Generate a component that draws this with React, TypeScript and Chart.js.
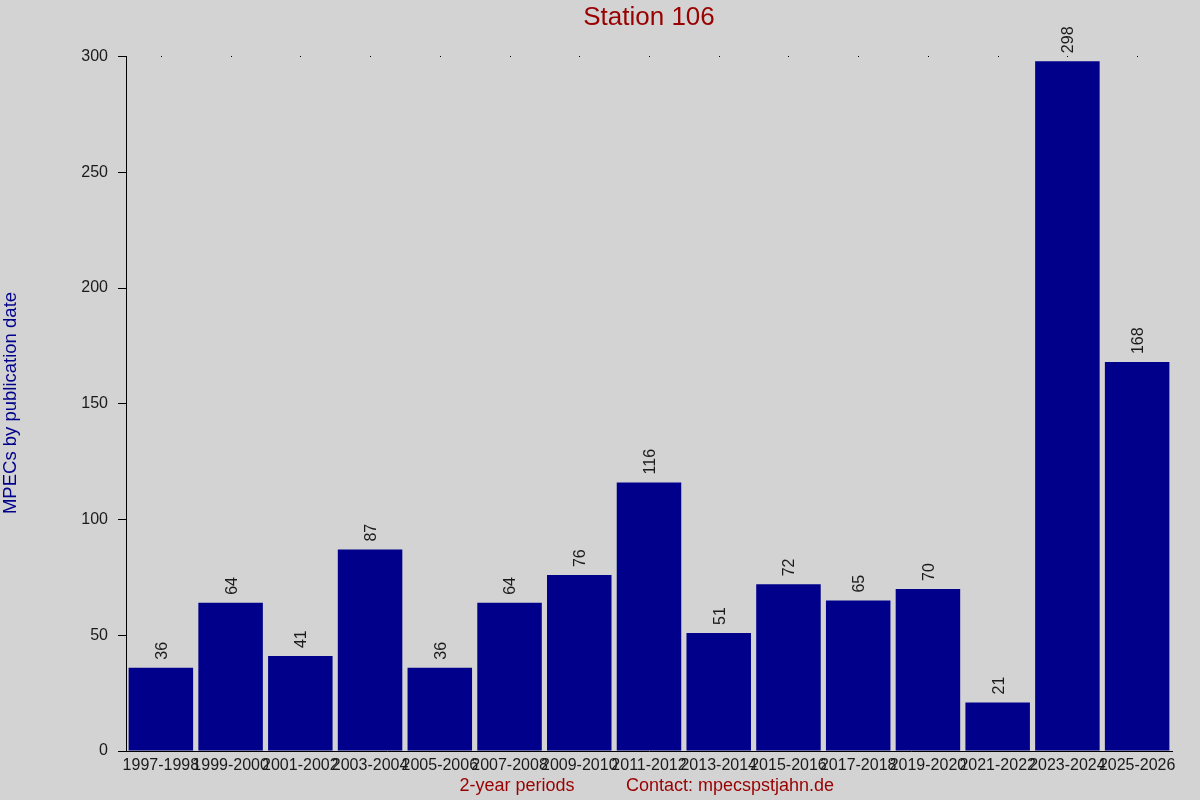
import Chart from "chart.js/auto";
import type { ChartOptions, Plugin } from "chart.js";
import { useRef, useEffect } from "react";

const periods = [
  "1997-1998", "1999-2000", "2001-2002", "2003-2004", "2005-2006",
  "2007-2008", "2009-2010", "2011-2012", "2013-2014", "2015-2016",
  "2017-2018", "2019-2020", "2021-2022", "2023-2024", "2025-2026",
];
const mpecCounts = [36, 64, 41, 87, 36, 64, 76, 116, 51, 72, 65, 70, 21, 298, 168];
const yTicks = [0, 50, 100, 150, 200, 250, 300];

const FONT = "'Liberation Sans', Arial, sans-serif";

const decorations: Plugin<"bar"> = {
  id: "decorations",
  afterDraw(chart) {
    const { ctx, chartArea } = chart;
    const xScale = chart.scales.x;
    const meta = chart.getDatasetMeta(0);
    ctx.save();

    // small dots along the top edge
    ctx.fillStyle = "#000";
    periods.forEach((_, i) => {
      const px = Math.round(xScale.getPixelForValue(i));
      ctx.fillRect(px, Math.floor(chartArea.top), 1, 1);
    });

    // value labels, rotated
    ctx.font = `16px ${FONT}`;
    ctx.fillStyle = "#1a1a1a";
    ctx.textAlign = "left";
    ctx.textBaseline = "middle";
    meta.data.forEach((bar, i) => {
      ctx.save();
      ctx.translate(bar.x + 1.5, bar.y - 8);
      ctx.rotate(-Math.PI / 2);
      ctx.fillText(String(mpecCounts[i]), 0, 0);
      ctx.restore();
    });

    // title
    ctx.fillStyle = "#990000";
    ctx.font = `26px ${FONT}`;
    ctx.textAlign = "center";
    ctx.fillText("Station 106", (chartArea.left + chartArea.right) / 2, 18);

    // bottom captions
    ctx.font = `18px ${FONT}`;
    ctx.fillText("2-year periods", 517, 786);
    ctx.textAlign = "left";
    ctx.fillText("Contact: mpecspstjahn.de", 626, 786);

    // y axis title
    ctx.fillStyle = "#00008b";
    ctx.textAlign = "center";
    ctx.font = `18.5px ${FONT}`;
    ctx.translate(11, 403);
    ctx.rotate(-Math.PI / 2);
    ctx.fillText("MPECs by publication date", 0, 0);

    ctx.restore();
  },
};

const App: React.FC = () => {
  const chartRef = useRef<HTMLCanvasElement>(null);
  const chartInstance = useRef<Chart<"bar">>();

  useEffect(() => {
    if (!chartRef.current) return;

    const options: ChartOptions<"bar"> = {
      responsive: false,
      animation: false,
      devicePixelRatio: 1,
      layout: { padding: { top: 56.5, right: 28, left: 0, bottom: 0 } },
      plugins: {
        legend: { display: false },
        tooltip: { enabled: false },
      },
      scales: {
        x: {
          grid: { display: false },
          border: { display: true, color: "#000", width: 1 },
          ticks: {
            color: "#1a1a1a",
            font: { family: FONT, size: 16 },
            autoSkip: false,
            minRotation: 0,
            maxRotation: 0,
            padding: -3,
          },
          afterFit: (scale) => {
            scale.height = 49;
          },
        },
        y: {
          min: 0,
          max: 300,
          grid: {
            display: true,
            drawOnChartArea: false,
            tickLength: 8,
            color: "#000",
          },
          border: { display: true, color: "#000", width: 1 },
          afterBuildTicks: (scale) => {
            scale.ticks = yTicks.map((v) => ({ value: v }));
          },
          ticks: {
            color: "#1a1a1a",
            font: { family: FONT, size: 16 },
            padding: 10,
          },
          afterFit: (scale) => {
            scale.width = 126;
          },
        },
      },
    };

    const ctx = chartRef.current.getContext("2d");
    if (ctx) {
      if (chartInstance.current) {
        chartInstance.current.destroy();
      }
      chartInstance.current = new Chart(ctx, {
        type: "bar",
        data: {
          labels: periods,
          datasets: [
            {
              data: mpecCounts,
              backgroundColor: "#00008b",
              borderWidth: 0,
              barPercentage: 0.925,
              categoryPercentage: 1,
            },
          ],
        },
        options,
        plugins: [decorations],
      });
    }

    return () => {
      if (chartInstance.current) {
        chartInstance.current.destroy();
        chartInstance.current = undefined;
      }
    };
  }, []);

  return (
    <div
      style={{
        position: "absolute",
        left: 0,
        top: 0,
        width: 1200,
        height: 800,
        background: "#d3d3d3",
      }}
    >
      <canvas
        ref={chartRef}
        width={1200}
        height={800}
        style={{ display: "block", width: 1200, height: 800 }}
      ></canvas>
    </div>
  );
};

export default App;
